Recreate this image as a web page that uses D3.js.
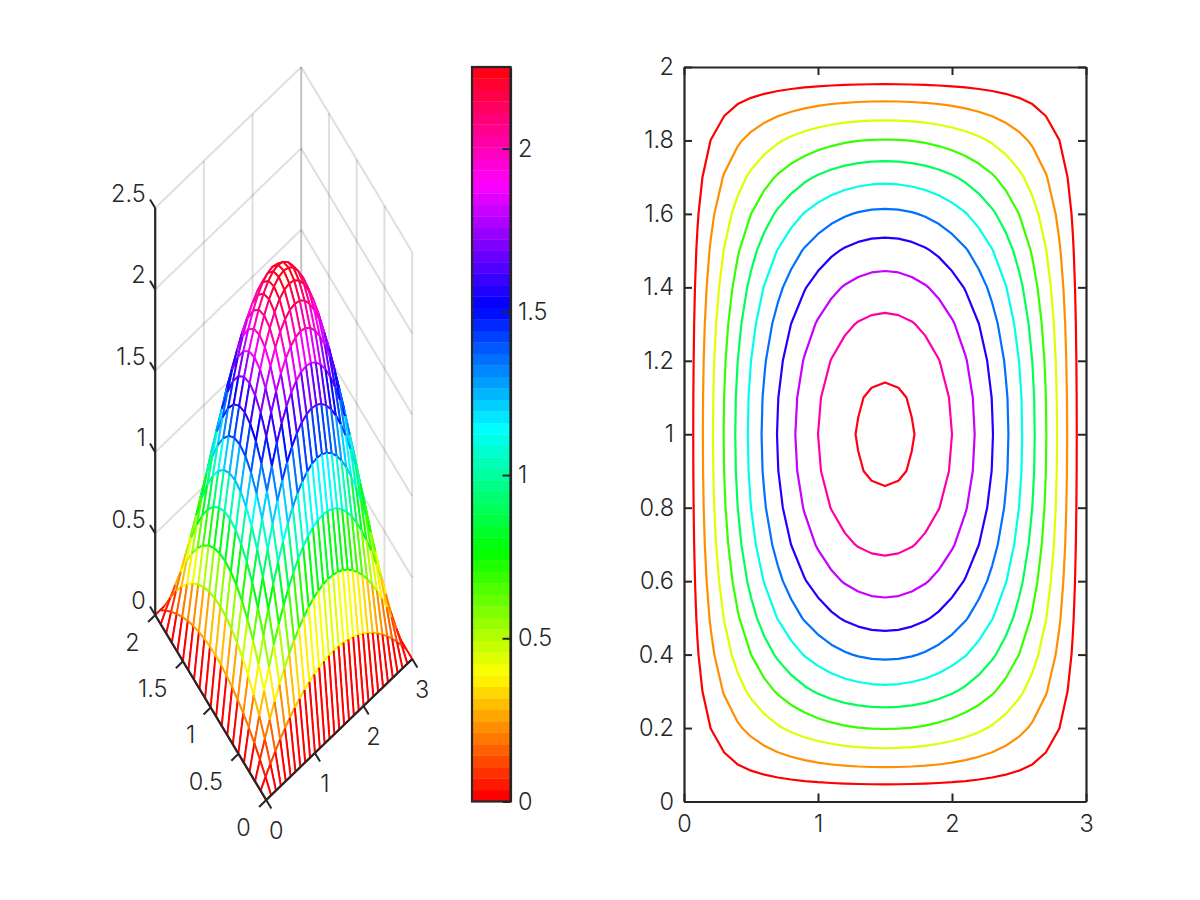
<!DOCTYPE html>
<html>
<head>
<meta charset="utf-8">
<script src="https://cdnjs.cloudflare.com/ajax/libs/d3/7.8.5/d3.min.js"></script>
<style>
body { margin: 0; background: #fff; }
text { font-family: Inter, "Noto Sans", sans-serif; font-weight: 300; font-size: 23.5px; fill: #262626; }
</style>
</head>
<body>
<script>
// DATA
var xValues = [0,0.1,0.2,0.3,0.4,0.5,0.6,0.7,0.8,0.9,1,1.1,1.2,1.3,1.4,1.5,1.6,1.7,1.8,1.9,2,2.1,2.2,2.3,2.4,2.5,2.6,2.7,2.8,2.9,3];
var yValues = [0,0.1,0.2,0.3,0.4,0.5,0.6,0.7,0.8,0.9,1,1.1,1.2,1.3,1.4,1.5,1.6,1.7,1.8,1.9,2];

// height, one row per y value
var zRows = [
  [0,0,0,0,0,0,0,0,0,0,0,0,0,0,0,0,0,0,0,0,0,0,0,0,0,0,0,0,0,0,0],
  [0,.055,.106,.154,.198,.238,.274,.306,.334,.359,.38,.397,.41,.42,.426,.428,.426,.42,.41,.397,.38,.359,.334,.306,.274,.238,.198,.154,.106,.055,0],
  [0,.104,.202,.292,.374,.45,.518,.58,.634,.68,.72,.752,.778,.796,.806,.81,.806,.796,.778,.752,.72,.68,.634,.58,.518,.45,.374,.292,.202,.104,0],
  [0,.148,.286,.413,.53,.638,.734,.821,.898,.964,1.02,1.066,1.102,1.127,1.142,1.148,1.142,1.127,1.102,1.066,1.02,.964,.898,.821,.734,.638,.53,.413,.286,.148,0],
  [0,.186,.358,.518,.666,.8,.922,1.03,1.126,1.21,1.28,1.338,1.382,1.414,1.434,1.44,1.434,1.414,1.382,1.338,1.28,1.21,1.126,1.03,.922,.8,.666,.518,.358,.186,0],
  [0,.218,.42,.608,.78,.938,1.08,1.208,1.32,1.418,1.5,1.568,1.62,1.658,1.68,1.688,1.68,1.658,1.62,1.568,1.5,1.418,1.32,1.208,1.08,.938,.78,.608,.42,.218,0],
  [0,.244,.47,.68,.874,1.05,1.21,1.352,1.478,1.588,1.68,1.756,1.814,1.856,1.882,1.89,1.882,1.856,1.814,1.756,1.68,1.588,1.478,1.352,1.21,1.05,.874,.68,.47,.244,0],
  [0,.264,.51,.737,.946,1.138,1.31,1.465,1.602,1.72,1.82,1.902,1.966,2.011,2.038,2.048,2.038,2.011,1.966,1.902,1.82,1.72,1.602,1.465,1.31,1.138,.946,.737,.51,.264,0],
  [0,.278,.538,.778,.998,1.2,1.382,1.546,1.69,1.814,1.92,2.006,2.074,2.122,2.15,2.16,2.15,2.122,2.074,2.006,1.92,1.814,1.69,1.546,1.382,1.2,.998,.778,.538,.278,0],
  [0,.287,.554,.802,1.03,1.238,1.426,1.594,1.742,1.871,1.98,2.069,2.138,2.188,2.218,2.228,2.218,2.188,2.138,2.069,1.98,1.871,1.742,1.594,1.426,1.238,1.03,.802,.554,.287,0],
  [0,.29,.56,.81,1.04,1.25,1.44,1.61,1.76,1.89,2,2.09,2.16,2.21,2.24,2.25,2.24,2.21,2.16,2.09,2,1.89,1.76,1.61,1.44,1.25,1.04,.81,.56,.29,0],
  [0,.287,.554,.802,1.03,1.238,1.426,1.594,1.742,1.871,1.98,2.069,2.138,2.188,2.218,2.228,2.218,2.188,2.138,2.069,1.98,1.871,1.742,1.594,1.426,1.238,1.03,.802,.554,.287,0],
  [0,.278,.538,.778,.998,1.2,1.382,1.546,1.69,1.814,1.92,2.006,2.074,2.122,2.15,2.16,2.15,2.122,2.074,2.006,1.92,1.814,1.69,1.546,1.382,1.2,.998,.778,.538,.278,0],
  [0,.264,.51,.737,.946,1.138,1.31,1.465,1.602,1.72,1.82,1.902,1.966,2.011,2.038,2.048,2.038,2.011,1.966,1.902,1.82,1.72,1.602,1.465,1.31,1.138,.946,.737,.51,.264,0],
  [0,.244,.47,.68,.874,1.05,1.21,1.352,1.478,1.588,1.68,1.756,1.814,1.856,1.882,1.89,1.882,1.856,1.814,1.756,1.68,1.588,1.478,1.352,1.21,1.05,.874,.68,.47,.244,0],
  [0,.218,.42,.608,.78,.938,1.08,1.208,1.32,1.418,1.5,1.568,1.62,1.658,1.68,1.688,1.68,1.658,1.62,1.568,1.5,1.418,1.32,1.208,1.08,.938,.78,.608,.42,.218,0],
  [0,.186,.358,.518,.666,.8,.922,1.03,1.126,1.21,1.28,1.338,1.382,1.414,1.434,1.44,1.434,1.414,1.382,1.338,1.28,1.21,1.126,1.03,.922,.8,.666,.518,.358,.186,0],
  [0,.148,.286,.413,.53,.638,.734,.821,.898,.964,1.02,1.066,1.102,1.127,1.142,1.148,1.142,1.127,1.102,1.066,1.02,.964,.898,.821,.734,.638,.53,.413,.286,.148,0],
  [0,.104,.202,.292,.374,.45,.518,.58,.634,.68,.72,.752,.778,.796,.806,.81,.806,.796,.778,.752,.72,.68,.634,.58,.518,.45,.374,.292,.202,.104,0],
  [0,.055,.106,.154,.198,.238,.274,.306,.334,.359,.38,.397,.41,.42,.426,.428,.426,.42,.41,.397,.38,.359,.334,.306,.274,.238,.198,.154,.106,.055,0],
  [0,0,0,0,0,0,0,0,0,0,0,0,0,0,0,0,0,0,0,0,0,0,0,0,0,0,0,0,0,0,0]
];

var contourLevels = [0.2,0.4,0.6,0.8,1,1.2,1.4,1.6,1.8,2,2.2];

var meshXTicks = [0,1,2,3];
var meshYTicks = [0,0.5,1,1.5,2];
var meshZTicks = [0,0.5,1,1.5,2,2.5];
var barTicks = [0,0.5,1,1.5,2];
var planXTicks = [0,1,2,3];
var planYTicks = [0,0.2,0.4,0.6,0.8,1,1.2,1.4,1.6,1.8,2];

var ink = "#262626";

var svg = d3.select("body").append("svg")
  .attr("width", 1200)
  .attr("height", 900);

// hsv colormap, 64 bands
var hsvBands = d3.range(64).map(function(i) {
  return d3.hsl(i / 64 * 360, 1, 0.5).formatHex();
});
var meshColor = d3.scaleQuantize().domain([0, 2.25]).range(hsvBands);
var levelColor = d3.scaleQuantize().domain([0.2, 2.2]).range(hsvBands);

// MESH PANEL
var xToPx = d3.scaleLinear().domain([0, 3]).range([266.2, 412.2]);
var xToPy = d3.scaleLinear().domain([0, 3]).range([800, 659]);
var yToPx = d3.scaleLinear().domain([0, 2]).range([0, -111]);
var yToPy = d3.scaleLinear().domain([0, 2]).range([0, -185]);
var zToPy = d3.scaleLinear().domain([0, 2.5]).range([0, -407]);

function project(x, y, z) {
  return [xToPx(x) + yToPx(y), xToPy(x) + yToPy(y) + zToPy(z)];
}

function seg(g, a, b, color, width, opacity) {
  g.append("line")
    .attr("x1", a[0]).attr("y1", a[1])
    .attr("x2", b[0]).attr("y2", b[1])
    .attr("stroke", color)
    .attr("stroke-width", width)
    .attr("stroke-opacity", opacity === undefined ? 1 : opacity);
}

// back walls
var walls = svg.append("g").attr("class", "walls");
meshZTicks.forEach(function(z) {
  seg(walls, project(0, 2, z), project(3, 2, z), ink, 2, 0.15);
  seg(walls, project(3, 2, z), project(3, 0, z), ink, 2, 0.15);
});
meshXTicks.forEach(function(x) {
  seg(walls, project(x, 2, 0), project(x, 2, 2.5), ink, 2, 0.15);
  seg(walls, project(x, 0, 0), project(x, 2, 0), ink, 2, 0.15);
});
meshYTicks.forEach(function(y) {
  seg(walls, project(3, y, 0), project(3, y, 2.5), ink, 2, 0.15);
  seg(walls, project(0, y, 0), project(3, y, 0), ink, 2, 0.15);
});

// mesh cells, painted from the far corner to the near one
var mesh = svg.append("g").attr("class", "mesh");
var line = d3.line();
d3.range(xValues.length - 2, -1, -1).forEach(function(i) {
  d3.range(yValues.length - 2, -1, -1).forEach(function(j) {
    var x0 = xValues[i], x1 = xValues[i + 1], y0 = yValues[j], y1 = yValues[j + 1];
    var a = project(x0, y0, zRows[j][i]);
    var b = project(x1, y0, zRows[j][i + 1]);
    var c = project(x1, y1, zRows[j + 1][i + 1]);
    var d = project(x0, y1, zRows[j + 1][i]);
    mesh.append("path")
      .attr("d", line([a, b, c, d]) + "Z")
      .attr("fill", "#fff");
    seg(mesh, a, b, meshColor(zRows[j][i]), 1.9);
    seg(mesh, a, d, meshColor(zRows[j][i]), 1.9);
    seg(mesh, d, c, meshColor(zRows[j + 1][i]), 1.9);
    seg(mesh, b, c, meshColor(zRows[j][i + 1]), 1.9);
  });
});

// mesh axes
var meshAxes = svg.append("g").attr("class", "meshAxes");
seg(meshAxes, project(0, 0, 0), project(3, 0, 0), ink, 2.2);
seg(meshAxes, project(0, 0, 0), project(0, 2, 0), ink, 2.2);
seg(meshAxes, project(0, 2, 0), project(0, 2, 2.5), ink, 2.2);

meshXTicks.forEach(function(x) {
  var p = project(x, 0, 0);
  seg(meshAxes, p, [p[0] + 5.2, p[1] + 8.6], ink, 2);
  meshAxes.append("text")
    .attr("x", p[0] + 10).attr("y", p[1] + 30.5)
    .attr("dy", ".36em").attr("text-anchor", "middle")
    .text(x);
});
meshYTicks.forEach(function(y) {
  var p = project(0, y, 0);
  seg(meshAxes, p, [p[0] - 7.1, p[1] + 7], ink, 2);
  meshAxes.append("text")
    .attr("x", p[0] - 15.5).attr("y", p[1] + 27.5)
    .attr("dy", ".36em").attr("text-anchor", "end")
    .text(y);
});
meshZTicks.forEach(function(z) {
  var p = project(0, 2, z);
  seg(meshAxes, p, [p[0] - 5.2, p[1] - 8.6], ink, 2);
  meshAxes.append("text")
    .attr("x", p[0] - 9.5).attr("y", p[1] - 14.5)
    .attr("dy", ".36em").attr("text-anchor", "end")
    .text(z);
});

// COLORBAR
var barLeft = 472, barRight = 510.5, barTop = 67, barBottom = 801.5;
var barScale = d3.scaleLinear().domain([0, 2.25]).range([barBottom, barTop]);
var bandH = (barBottom - barTop) / hsvBands.length;

svg.append("g").attr("class", "bands")
  .selectAll("rect")
  .data(hsvBands)
  .enter().append("rect")
  .attr("x", barLeft)
  .attr("y", function(d, i) { return barScale((i + 1) * 2.25 / 64); })
  .attr("width", barRight - barLeft)
  .attr("height", bandH + 0.3)
  .attr("fill", function(d) { return d; });

var barAxis = svg.append("g")
  .attr("transform", "translate(" + barRight + ",0)")
  .call(d3.axisRight(barScale)
    .tickValues(barTicks)
    .tickFormat(function(d) { return d; })
    .tickSizeInner(-8).tickSizeOuter(0).tickPadding(7.5));
styleAxis(barAxis);

svg.append("rect")
  .attr("x", barLeft).attr("y", barTop)
  .attr("width", barRight - barLeft).attr("height", barBottom - barTop)
  .attr("fill", "none").attr("stroke", ink).attr("stroke-width", 2.2);

// CONTOUR PANEL
var planLeft = 684, planRight = 1086, planTop = 67, planBottom = 801.5;
var planX = d3.scaleLinear().domain([0, 3]).range([planLeft, planRight]);
var planY = d3.scaleLinear().domain([0, 2]).range([planBottom, planTop]);

// d3.contours puts grid point i at i + 0.5
var gridToX = d3.scaleLinear().domain([0.5, xValues.length - 0.5]).range([0, 3]);
var gridToY = d3.scaleLinear().domain([0.5, yValues.length - 0.5]).range([0, 2]);

var planPath = d3.geoPath(d3.geoTransform({
  point: function(x, y) {
    this.stream.point(planX(gridToX(x)), planY(gridToY(y)));
  }
}));

var contours = d3.contours()
  .size([xValues.length, yValues.length])
  .thresholds(contourLevels)
  (d3.merge(zRows));

svg.append("g").attr("class", "contours")
  .selectAll("path")
  .data(contours)
  .enter().append("path")
  .attr("d", planPath)
  .attr("fill", "none")
  .attr("stroke-width", 2.2)
  .attr("stroke-linejoin", "round")
  .attr("stroke", function(d) { return levelColor(d.value); });

var bottomAxis = svg.append("g")
  .attr("transform", "translate(0," + planBottom + ")")
  .call(d3.axisBottom(planX).tickValues(planXTicks)
    .tickFormat(function(d) { return d; })
    .tickSizeInner(-8).tickSizeOuter(0).tickPadding(14));
var leftAxis = svg.append("g")
  .attr("transform", "translate(" + planLeft + ",0)")
  .call(d3.axisLeft(planY).tickValues(planYTicks)
    .tickFormat(function(d) { return d; })
    .tickSizeInner(-8).tickSizeOuter(0).tickPadding(10));
var topAxis = svg.append("g")
  .attr("transform", "translate(0," + planTop + ")")
  .call(d3.axisTop(planX).tickValues(planXTicks)
    .tickFormat("").tickSizeInner(-8).tickSizeOuter(0));
var rightAxis = svg.append("g")
  .attr("transform", "translate(" + planRight + ",0)")
  .call(d3.axisRight(planY).tickValues(planYTicks)
    .tickFormat("").tickSizeInner(-8).tickSizeOuter(0));
[bottomAxis, leftAxis, topAxis, rightAxis].forEach(styleAxis);

function styleAxis(g) {
  g.attr("font-family", null).attr("font-size", null);
  g.selectAll("path").attr("stroke", ink).attr("stroke-width", 2.2);
  g.selectAll("line").attr("stroke", ink).attr("stroke-width", 2);
}
</script>
</body>
</html>
